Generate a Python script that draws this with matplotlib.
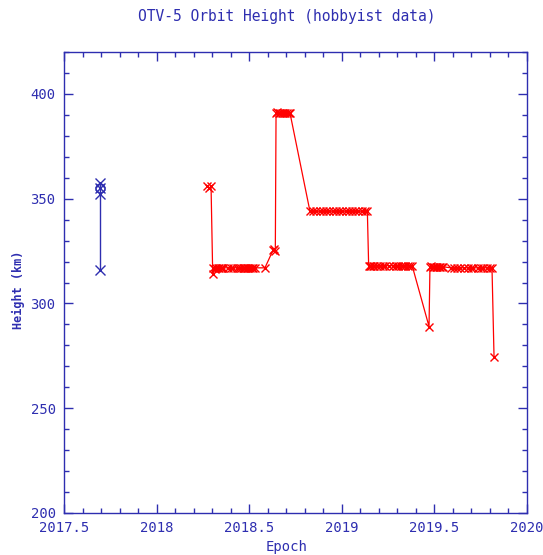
import matplotlib
matplotlib.use("Agg")
import matplotlib.pyplot as plt
from matplotlib.ticker import MultipleLocator, FuncFormatter

# ---- data ----
blue_epoch = [2017.694, 2017.694, 2017.694, 2017.694]
blue_height = [357.5, 355.0, 352.0, 316.0]
blue_circle_epoch = [2017.694]
blue_circle_height = [355.0]

red_epoch = [
    2018.272, 2018.283, 2018.294,
    2018.303,
    2018.307, 2018.315, 2018.322, 2018.330, 2018.338, 2018.346, 2018.353, 2018.359,
    2018.388, 2018.400, 2018.413,
    2018.434, 2018.445, 2018.455, 2018.465, 2018.472, 2018.480, 2018.488, 2018.496,
    2018.505, 2018.513, 2018.522, 2018.531,
    2018.585,
    2018.629, 2018.635, 2018.641,
    2018.645, 2018.652, 2018.660, 2018.668, 2018.677, 2018.686, 2018.695, 2018.704,
    2018.713, 2018.720,
    2018.828, 2018.845, 2018.862, 2018.880, 2018.898, 2018.915, 2018.932, 2018.950,
    2018.968, 2018.985, 2019.002, 2019.020, 2019.038, 2019.055, 2019.072, 2019.090,
    2019.108, 2019.125, 2019.138,
    2019.145, 2019.152, 2019.160, 2019.168, 2019.176, 2019.190, 2019.205, 2019.220,
    2019.235, 2019.255, 2019.275, 2019.292, 2019.305, 2019.318, 2019.330, 2019.342,
    2019.355, 2019.368, 2019.380,
    2019.471,
    2019.476, 2019.484, 2019.492, 2019.500, 2019.508, 2019.516, 2019.524, 2019.532,
    2019.540, 2019.546,
    2019.590, 2019.605, 2019.620, 2019.640, 2019.660, 2019.680, 2019.695, 2019.708,
    2019.735, 2019.750, 2019.765, 2019.782, 2019.798, 2019.811,
    2019.822,
]
red_height = [
    356.0, 355.0, 356.0,
    314.0,
    317.0, 316.5, 317.0, 317.0, 317.0, 317.0, 317.0, 317.0,
    317.0, 317.0, 317.0,
    317.0, 317.0, 317.0, 317.0, 317.0, 317.0, 317.0, 317.0,
    317.0, 317.0, 317.0, 317.0,
    317.0,
    325.5, 326.0, 325.0,
    391.0, 391.5, 391.0, 391.0, 391.0, 391.0, 391.0, 391.0,
    391.0, 391.0,
    344.0, 344.0, 344.0, 344.0, 344.0, 344.0, 344.0, 344.0,
    344.0, 344.0, 344.0, 344.0, 344.0, 344.0, 344.0, 344.0,
    344.0, 344.0, 344.0,
    318.0, 318.0, 318.0, 318.0, 318.0, 318.0, 318.0, 318.0,
    318.0, 318.0, 318.0, 318.0, 318.0, 318.0, 318.0, 318.0,
    318.0, 318.0, 318.0,
    289.0,
    317.5, 318.0, 317.5, 317.5, 317.5, 317.5, 317.5, 317.5,
    317.5, 317.5,
    317.0, 317.0, 317.0, 317.0, 317.0, 317.0, 317.0, 317.0,
    317.0, 317.0, 317.0, 317.0, 317.0, 317.0,
    274.5,
]

title = "OTV-5 Orbit Height (hobbyist data)"
xlabel = "Epoch"
ylabel = "Height (km)"

BLUE = "#2e2eb0"
RED = "#ff0000"
MONO = "DejaVu Sans Mono"

fig = plt.figure(figsize=(5.43, 5.55), dpi=100)
ax = fig.add_axes([64 / 543, 1 - 513 / 555, (527 - 64) / 543, (513 - 52) / 555])

ax.plot(blue_epoch, blue_height, color=BLUE, lw=1.0, marker="x", ms=6.5, mew=1.0)
ax.plot(blue_circle_epoch, blue_circle_height, ls="none", marker="o", ms=6.5,
        mfc="none", mec=BLUE, mew=1.0)
ax.plot(red_epoch, red_height, color=RED, lw=0.9, marker="x", ms=6, mew=1.0)

ax.set_xlim(2017.5, 2020.0)
ax.set_ylim(200, 420)
ax.xaxis.set_major_locator(MultipleLocator(0.5))
ax.xaxis.set_minor_locator(MultipleLocator(0.1))
ax.yaxis.set_major_locator(MultipleLocator(50))
ax.yaxis.set_minor_locator(MultipleLocator(10))

def fmt(v, pos):
    s = f"{v:.1f}"
    return s[:-2] if s.endswith(".0") else s

ax.xaxis.set_major_formatter(FuncFormatter(fmt))
ax.yaxis.set_major_formatter(FuncFormatter(fmt))

ax.tick_params(which="both", direction="in", top=True, right=True, colors=BLUE,
               labelcolor=BLUE, width=1.0)
ax.tick_params(which="major", length=6.5)
ax.tick_params(which="minor", length=3.5)
ax.tick_params(axis="x", which="major", pad=6)
ax.tick_params(axis="y", which="major", pad=6)
for lab in ax.get_xticklabels() + ax.get_yticklabels():
    lab.set_fontfamily(MONO)
    lab.set_fontsize(10)
for sp in ax.spines.values():
    sp.set_color(BLUE)
    sp.set_linewidth(1.0)

fig.text(287 / 543, 1 - 17 / 555, title, ha="center", va="center",
         color=BLUE, fontsize=10.5, family=MONO)
fig.text(287 / 543, 1 - 547 / 555, xlabel, ha="center", va="center",
         color=BLUE, fontsize=10, family=MONO)
fig.text(18 / 543, 1 - 290 / 555, ylabel, ha="center", va="center",
         color=BLUE, fontsize=8.5, family=MONO, fontweight="bold", rotation=90)

fig.savefig("out.png", dpi=100)
